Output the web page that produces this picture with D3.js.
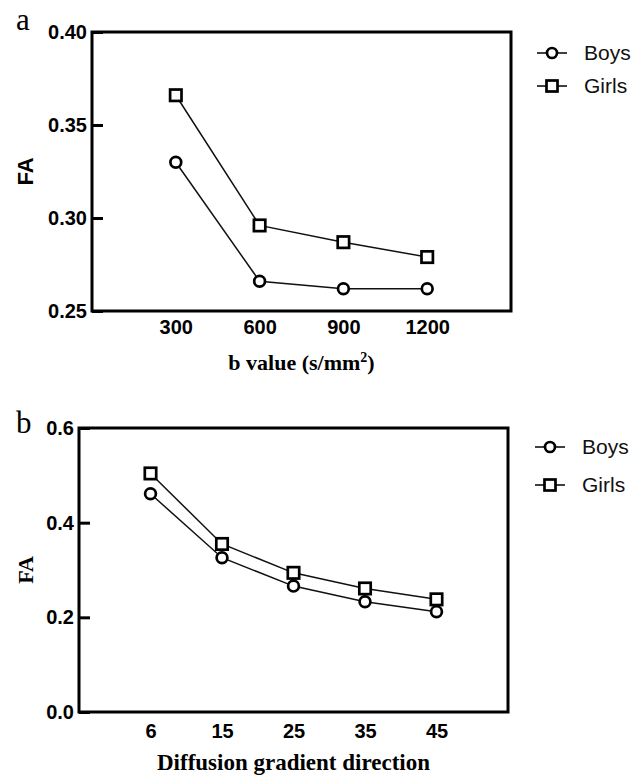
<!DOCTYPE html>
<html><head><meta charset="utf-8">
<script src="https://cdn.jsdelivr.net/npm/d3@7"></script>
<style>body{margin:0;background:#fff}svg{display:block}</style>
</head><body>
<svg id="c" width="638" height="775"></svg>
<script>
// Panel a data
const bValues = ["300", "600", "900", "1200"];
const boysA = [0.330, 0.266, 0.262, 0.262];
const girlsA = [0.366, 0.296, 0.287, 0.279];
const yTicksA = [0.25, 0.30, 0.35, 0.40];
// Panel b data
const directions = ["6", "15", "25", "35", "45"];
const boysB = [0.461, 0.326, 0.266, 0.233, 0.212];
const girlsB = [0.504, 0.355, 0.294, 0.261, 0.238];
const yTicksB = [0.0, 0.2, 0.4, 0.6];
const seriesNames = ["Boys", "Girls"];

const svg = d3.select("#c");
const sans = "'Liberation Sans', Arial, sans-serif";
const serif = "'Liberation Serif', 'Times New Roman', serif";

function panel(o) {
  const g = svg.append("g");
  const n = o.cats.length;
  const x = d3.scaleLinear().domain([0, n + 1]).range([o.left, o.right]);
  const y = d3.scaleLinear().domain(o.yDomain).range([o.bottom, o.top]);

  // y axis (inward ticks)
  const ya = g.append("g").attr("transform", `translate(${o.left},0)`)
    .call(d3.axisLeft(y).tickValues(o.yTicks).tickFormat(o.yFmt).tickSizeInner(-11).tickSizeOuter(0).tickPadding(5));
  ya.select(".domain").remove();
  ya.selectAll(".tick line").attr("stroke", "#000").attr("stroke-width", 3);
  ya.selectAll("text").attr("font-family", sans).attr("font-weight", "bold").attr("font-size", 20).attr("fill", "#000");

  // x axis
  const xa = g.append("g").attr("transform", `translate(0,${o.bottom})`)
    .call(d3.axisBottom(x).tickValues(d3.range(1, n + 1)).tickFormat(i => o.cats[i - 1]).tickSize(0).tickPadding(o.xPad));
  xa.select(".domain").remove();
  xa.selectAll("text").attr("font-family", sans).attr("font-weight", "bold").attr("font-size", 20).attr("fill", "#000");

  // frame
  g.append("rect").attr("x", o.left).attr("y", o.top)
    .attr("width", o.right - o.left).attr("height", o.bottom - o.top)
    .attr("fill", "none").attr("stroke", "#000").attr("stroke-width", 3);

  const line = d3.line().x((d, i) => x(i + 1)).y(d => y(d));
  [o.boys, o.girls].forEach((vals, si) => {
    g.append("path").attr("d", line(vals)).attr("fill", "none").attr("stroke", "#111").attr("stroke-width", 1.5);
    vals.forEach((v, i) => {
      if (si === 0) {
        g.append("circle").attr("cx", x(i + 1)).attr("cy", y(v)).attr("r", 5.4)
          .attr("fill", "#fff").attr("stroke", "#000").attr("stroke-width", 2.7);
      } else {
        g.append("rect").attr("x", x(i + 1) - 5.7).attr("y", y(v) - 5.7).attr("width", 11.4).attr("height", 11.4)
          .attr("fill", "#fff").attr("stroke", "#000").attr("stroke-width", 2.7);
      }
    });
  });

  // legend
  seriesNames.forEach((name, si) => {
    const ly = o.legY[si];
    g.append("line").attr("x1", o.legX - 15).attr("x2", o.legX + 15).attr("y1", ly).attr("y2", ly)
      .attr("stroke", "#000").attr("stroke-width", 1.5);
    if (si === 0) {
      g.append("circle").attr("cx", o.legX).attr("cy", ly).attr("r", 5).attr("fill", "#fff").attr("stroke", "#000").attr("stroke-width", 2.7);
    } else {
      g.append("rect").attr("x", o.legX - 5.5).attr("y", ly - 5.5).attr("width", 11).attr("height", 11)
        .attr("fill", "#fff").attr("stroke", "#000").attr("stroke-width", 2.7);
    }
    g.append("text").attr("x", o.legX + 32).attr("y", ly).attr("dy", "0.35em")
      .attr("font-family", sans).attr("font-size", 21).attr("fill", "#111").text(name);
  });

  // y title
  g.append("text").attr("transform", `translate(${o.yTitleX},${(o.top + o.bottom) / 2}) rotate(-90)`)
    .attr("text-anchor", "middle").attr("dy", "0.35em")
    .attr("font-family", o.yTitleFont).attr("font-weight", "bold").attr("font-size", 22).text("FA");

  // x title
  const xt = g.append("text").attr("x", (o.left + o.right) / 2).attr("y", o.xTitleY)
    .attr("text-anchor", "middle").attr("font-family", serif).attr("font-weight", "bold").attr("font-size", o.xTitleSize);
  o.xTitle(xt);

  // panel letter
  g.append("text").attr("x", 16).attr("y", o.letterY).attr("font-family", serif).attr("font-size", 31).text(o.letter);
}

panel({
  cats: bValues, boys: boysA, girls: girlsA, yTicks: yTicksA, yDomain: [0.25, 0.40], yFmt: d3.format(".2f"),
  left: 92, right: 511, top: 32, bottom: 311, xPad: 9,
  legX: 552, legY: [53, 86], yTitleX: 25, yTitleFont: sans,
  xTitleY: 370, xTitleSize: 22,
  xTitle: t => { t.append("tspan").text("b value (s/mm"); t.append("tspan").attr("font-size", 14).attr("dy", -8).text("2"); t.append("tspan").attr("dy", 8).text(")"); },
  letter: "a", letterY: 30
});

panel({
  cats: directions, boys: boysB, girls: girlsB, yTicks: yTicksB, yDomain: [0.0, 0.6], yFmt: d3.format(".1f"),
  left: 79, right: 508, top: 428, bottom: 712, xPad: 12,
  legX: 550, legY: [447, 485], yTitleX: 25, yTitleFont: serif,
  xTitleY: 770, xTitleSize: 23,
  xTitle: t => t.text("Diffusion gradient direction"),
  letter: "b", letterY: 433
});
</script>
</body></html>
